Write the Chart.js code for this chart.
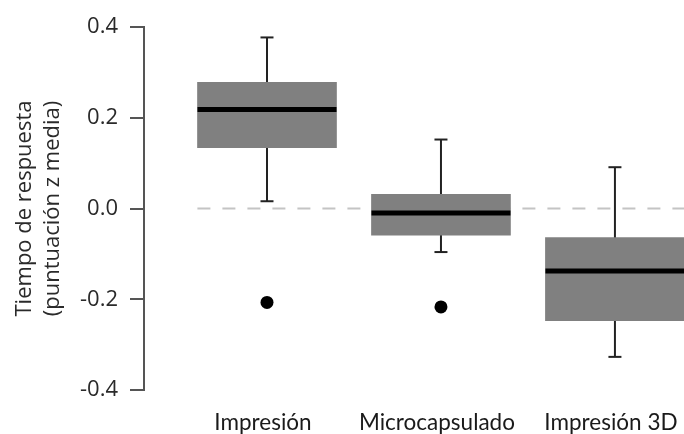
<!DOCTYPE html>
<html>
<head>
<meta charset="utf-8">
<script src="https://cdn.jsdelivr.net/npm/chart.js@4/dist/chart.umd.min.js"></script>
<style>
  html, body { margin: 0; padding: 0; background: #fff; }
  #wrap { width: 684px; height: 434px; }
</style>
</head>
<body>
<div id="wrap"><canvas id="chart" width="684" height="434"></canvas></div>
<script>
// ---------- data ----------
const categories = ['Impresión', 'Microcapsulado', 'Impresión 3D']
const q1 = [0.134, -0.059, -0.247]
const q3 = [0.278, 0.031, -0.064]
const medians = [0.218, -0.010, -0.138]
const whiskerLow = [0.016, -0.096, -0.327]
const whiskerHigh = [0.377, 0.152, 0.091]
const outliers = [[-0.207], [-0.217], []]
const yTicks = [-0.4, -0.2, 0.0, 0.2, 0.4]

const boxColor = '#808080'
const inkColor = '#222'

// ---------- building datasets ----------
let whiskerSets = categories.map((c, i) => ({
    type: 'line',
    data: [{x: i + 1, y: whiskerLow[i]}, {x: i + 1, y: whiskerHigh[i]}],
    borderColor: inkColor,
    borderWidth: 2,
    pointRadius: 0,
    order: 5
}))

let capPoints = []
categories.forEach((c, i) => {
    capPoints.push({x: i + 1, y: whiskerLow[i]})
    capPoints.push({x: i + 1, y: whiskerHigh[i]})
})

let outlierPoints = []
outliers.forEach((list, i) => {
    list.forEach(v => outlierPoints.push({x: i + 1, y: v}))
})

let datasets = [
    {
        // dashed reference line at zero
        type: 'line',
        data: [{x: 0.6, y: 0}, {x: 3.5, y: 0}],
        borderColor: '#c4c4c4',
        borderWidth: 2,
        borderDash: [13, 12],
        pointRadius: 0,
        order: 6
    },
    ...whiskerSets,
    {
        type: 'bar',
        data: categories.map((c, i) => ({x: i + 1, y: [q1[i], q3[i]]})),
        backgroundColor: boxColor,
        borderWidth: 0,
        barThickness: 139,
        order: 4
    },
    {
        type: 'scatter',
        data: capPoints,
        pointStyle: 'line',
        pointRadius: 6.5,
        borderColor: inkColor,
        borderWidth: 2,
        order: 2
    },
    {
        type: 'scatter',
        data: categories.map((c, i) => ({x: i + 1, y: medians[i]})),
        pointStyle: 'line',
        pointRadius: 69.5,
        borderColor: '#000',
        borderWidth: 5,
        order: 1
    },
    {
        type: 'scatter',
        data: outlierPoints,
        pointStyle: 'circle',
        pointRadius: 6.5,
        backgroundColor: '#000',
        borderWidth: 0,
        order: 1
    }
]

new Chart(document.getElementById('chart'), {
    type: 'bar',
    data: {datasets: datasets},
    options: {
        responsive: false,
        animation: false,
        layout: {autoPadding: false, padding: {top: 27, left: 0, right: 0, bottom: 0}},
        plugins: {legend: {display: false}, tooltip: {enabled: false}},
        scales: {
            x: {
                type: 'linear',
                offset: false,
                min: 0.293,
                max: 3.397,
                grid: {display: false},
                border: {display: false},
                afterBuildTicks: axis => { axis.ticks = categories.map((c, i) => ({value: i + 1})) },
                afterFit: axis => {
                    axis.height = 44
                    // the last label may hang over the edge, like in the original
                    axis.paddingLeft = 0
                    axis.paddingRight = 0
                },
                ticks: {
                    padding: 11,
                    labelOffset: -4,
                    maxRotation: 0,
                    autoSkip: false,
                    color: '#1a1a1a',
                    font: {family: 'Lato', size: 22.5},
                    callback: v => categories[v - 1]
                }
            },
            y: {
                min: -0.4,
                max: 0.4,
                afterBuildTicks: axis => { axis.ticks = yTicks.map(v => ({value: v})) },
                afterFit: axis => { axis.width = 144 },
                grid: {drawOnChartArea: false, drawTicks: true, tickLength: 14, color: '#555', lineWidth: 2},
                border: {display: true, color: '#555', width: 2},
                ticks: {
                    padding: 12,
                    color: '#2a2a2a',
                    font: {family: 'Open Sans', size: 22},
                    callback: v => v.toFixed(1)
                },
                title: {
                    display: true,
                    text: ['Tiempo de respuesta', '(puntuación z media)'],
                    color: '#2a2a2a',
                    font: {family: 'Open Sans', size: 22, lineHeight: 1.3},
                    padding: {top: 10, bottom: 0}
                }
            }
        }
    }
})
</script>
</body>
</html>
